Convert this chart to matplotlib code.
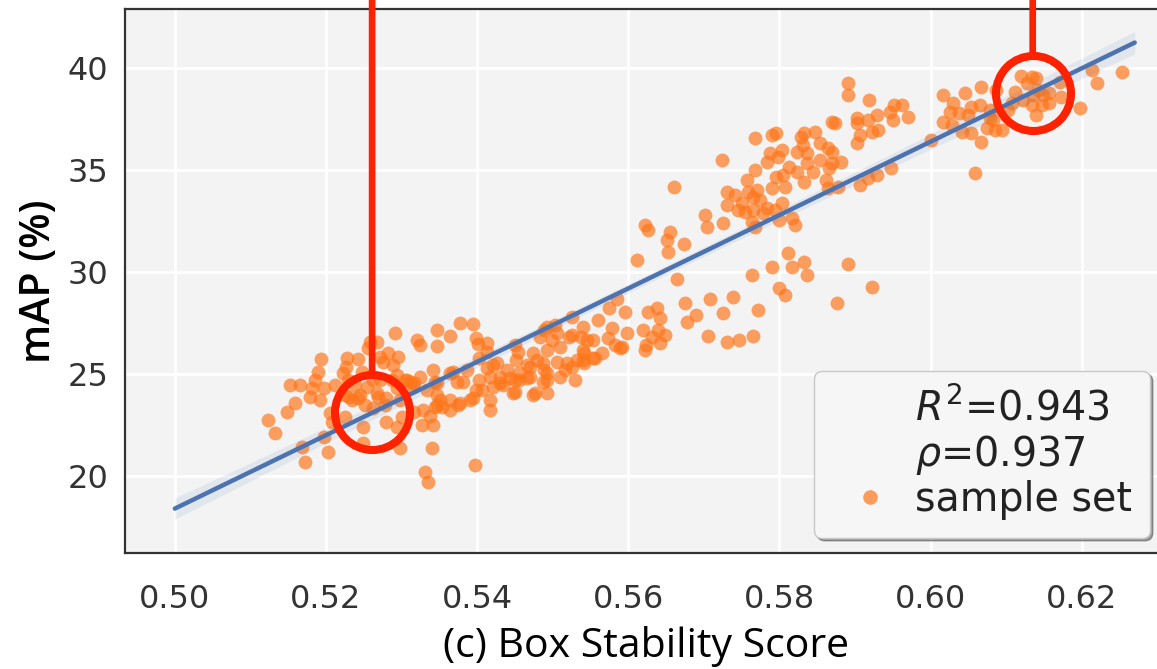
import numpy as np
import matplotlib
matplotlib.use("Agg")
import matplotlib.pyplot as plt
from matplotlib.lines import Line2D
from matplotlib.patches import ConnectionPatch
from matplotlib.transforms import offset_copy

# ---------------- data ----------------
pts = [
    # left cluster
    (0.5194,25.74),(0.5123,22.75),(0.5132,22.11),(0.5148,23.14),(0.5159,23.58),(0.5165,24.46),
    (0.5181,24.31),(0.5179,23.87),(0.5185,24.71),(0.5198,24.31),(0.5168,21.42),(0.5172,20.69),
    (0.5202,21.18),(0.5198,21.91),(0.5205,23.09),(0.5208,22.65),(0.5225,22.89),(0.5222,25.05),
    (0.5228,25.78),(0.5242,25.74),(0.5226,25.34),(0.5231,23.87),(0.5242,23.82),(0.5258,26.57),
    (0.5267,26.55),(0.5255,26.27),(0.5262,23.33),(0.5249,22.40),(0.5249,21.62),(0.5269,23.87),
    (0.5280,23.85),(0.5279,22.65),(0.5294,22.40),(0.5298,21.37),(0.5291,27.01),(0.5282,26.03),
    (0.5271,25.83),(0.5295,25.83),(0.5288,25.44),(0.5275,25.59),(0.5271,24.71),(0.5287,24.71),
    (0.5298,23.73),(0.5300,22.89),(0.5294,24.95),(0.5294,24.31),(0.5320,26.67),(0.5324,26.42),
    (0.5347,27.16),(0.5347,26.37),(0.5364,26.86),(0.5377,27.50),(0.5394,27.45),(0.5399,26.76),
    (0.5401,26.47),(0.5307,24.71),(0.5315,24.36),(0.5317,23.14),(0.5327,22.50),(0.5341,22.50),
    (0.5337,22.94),(0.5340,21.37),(0.5331,20.20),(0.5335,19.71),(0.5397,20.54),(0.5324,24.85),
    (0.5333,24.22),(0.5341,25.20),(0.5347,24.56),(0.5351,23.73),(0.5354,23.38),(0.5364,23.24),
    (0.5368,25.10),(0.5373,24.61),(0.5377,23.58),(0.5390,23.73),(0.5394,23.82),(0.5403,24.71),
    (0.5413,25.29),(0.5417,23.73),(0.5417,23.24),(0.5413,26.08),(0.5403,25.78),(0.5426,25.54),
    (0.5430,24.56),(0.5439,25.20),(0.5447,24.07),(0.5452,25.69),(0.5456,24.71),(0.5470,24.85),
    (0.5474,23.97),(0.5474,26.03),(0.5466,25.44),(0.5212,24.46),(0.5234,23.73),(0.5245,23.97),
    (0.5254,24.36),(0.5267,24.07),(0.5304,24.71),(0.5311,24.61),(0.5344,23.38),(0.5328,23.24),
    (0.5225,23.97),(0.5238,24.46),(0.5251,23.48),(0.5278,23.48),(0.5262,24.71),(0.5229,24.71),
    (0.5247,25.10),(0.5192,23.73),(0.5189,25.10),(0.5152,24.46),
    # 0.54 - 0.555 band
    (0.5450,26.42),(0.5454,26.08),(0.5479,25.69),(0.5492,27.30),(0.5505,27.01),(0.5509,26.32),
    (0.5526,26.91),(0.5538,26.81),(0.5553,26.67),(0.5542,26.03),(0.5532,25.69),(0.5553,25.78),
    (0.5519,25.54),(0.5505,25.59),(0.5492,25.05),(0.5487,25.54),(0.5456,25.05),(0.5430,24.85),
    (0.5421,25.44),(0.5417,24.85),(0.5407,24.22),(0.5421,24.36),(0.5434,24.46),(0.5450,24.12),
    (0.5450,24.71),(0.5466,24.80),(0.5476,24.07),(0.5492,24.07),(0.5487,24.61),(0.5509,24.85),
    (0.5526,25.34),(0.5529,24.71),(0.5516,25.20),(0.5542,25.54),(0.5386,25.20),(0.5381,24.61),
    (0.5364,25.05),(0.5344,24.61),(0.5317,24.56),(0.5347,23.97),(0.5347,23.48),(0.5364,23.73),
    (0.5374,23.48),(0.5399,24.22),(0.5443,24.80),
    # 0.55 - 0.58 lower band
    (0.5665,29.66),(0.5675,28.48),(0.5677,27.55),(0.5690,27.89),(0.5708,28.68),(0.5705,26.86),
    (0.5725,27.99),(0.5738,28.77),(0.5731,26.57),(0.5747,26.67),(0.5765,26.86),(0.5771,28.14),
    (0.5763,29.85),(0.5585,28.68),(0.5575,28.24),(0.5595,28.04),(0.5560,27.65),(0.5578,27.25),
    (0.5573,26.76),(0.5598,27.01),(0.5619,27.16),(0.5626,28.04),(0.5638,28.24),(0.5642,27.75),
    (0.5639,27.16),(0.5648,26.91),(0.5642,26.52),(0.5624,26.42),(0.5622,26.18),(0.5589,26.27),
    (0.5582,26.42),(0.5565,26.03),(0.5556,25.78),(0.5526,27.79),(0.5540,27.30),(0.5522,26.81),
    (0.5545,26.67),(0.5540,26.18),(0.5540,25.69),(0.5499,26.67),(0.5489,27.16),(0.5503,27.40),
    (0.5483,26.81),(0.5493,26.18),(0.5470,25.34),(0.5489,25.20),(0.5492,24.71),(0.5413,26.52),
    (0.5591,26.32),(0.5631,26.81),
    # 0.56 - 0.57 upper group
    (0.5660,34.17),(0.5622,32.30),(0.5626,32.06),(0.5655,31.96),(0.5651,31.57),(0.5653,30.98),
    (0.5673,31.37),(0.5611,30.59),(0.5701,32.79),(0.5704,32.21),
    # 0.57 - 0.595 cluster
    (0.5724,35.49),(0.5725,32.40),(0.5731,33.92),(0.5730,33.28),(0.5741,33.77),(0.5745,33.04),
    (0.5757,34.51),(0.5758,33.92),(0.5765,33.68),(0.5770,34.02),(0.5774,33.53),(0.5751,33.38),
    (0.5754,32.94),(0.5765,33.04),(0.5763,32.45),(0.5767,32.21),(0.5778,32.89),(0.5783,33.14),
    (0.5790,34.12),(0.5794,33.04),(0.5803,33.38),(0.5800,32.55),(0.5817,32.65),(0.5820,32.30),
    (0.5767,35.00),(0.5783,35.39),(0.5767,36.57),(0.5790,36.72),(0.5796,36.81),(0.5787,35.83),
    (0.5803,35.98),(0.5798,35.64),(0.5796,34.66),(0.5804,34.75),(0.5807,34.17),(0.5813,35.15),
    (0.5823,35.88),(0.5829,36.62),(0.5831,36.23),(0.5837,35.83),(0.5823,34.90),(0.5833,34.41),
    (0.5844,34.90),(0.5837,35.34),(0.5847,36.86),(0.5853,36.32),(0.5853,35.49),(0.5864,36.08),
    (0.5869,35.88),(0.5870,35.34),(0.5882,35.39),(0.5866,35.10),(0.5862,34.51),(0.5864,34.12),
    (0.5877,34.17),(0.5869,37.35),(0.5873,37.30),(0.5902,37.55),(0.5902,37.30),(0.5917,37.45),
    (0.5929,37.70),(0.5946,37.84),(0.5906,36.72),(0.5923,36.86),(0.5930,36.96),(0.5903,36.32),
    (0.5906,34.26),(0.5917,34.61),(0.5929,34.75),(0.5948,35.10),(0.5811,30.93),(0.5790,30.25),
    (0.5816,30.25),(0.5833,30.49),(0.5836,29.85),(0.5890,30.39),(0.5922,29.26),(0.5876,28.48),
    (0.5800,29.22),(0.5807,28.87),(0.5890,39.26),(0.5890,38.68),(0.5919,38.43),(0.5833,36.81),
    # 0.60 - 0.63 cluster
    (0.6016,38.68),(0.6029,38.28),(0.6045,38.77),(0.6067,39.07),(0.6054,38.09),(0.6065,38.19),
    (0.6025,37.84),(0.6038,37.79),(0.6049,37.70),(0.6016,37.35),(0.6028,37.21),(0.6042,36.86),
    (0.6054,36.81),(0.6067,36.37),(0.6078,37.55),(0.6074,37.06),(0.6082,37.45),(0.6085,36.96),
    (0.6078,37.94),(0.6094,36.96),(0.6087,38.92),(0.6001,36.47),(0.6058,34.85),(0.5952,38.19),
    (0.5962,38.19),(0.5950,37.45),(0.5970,37.60),(0.6120,39.61),(0.6134,39.56),(0.6140,39.51),
    (0.6128,39.26),(0.6111,38.82),(0.6122,38.43),(0.6135,38.68),(0.6148,38.68),(0.6157,38.77),
    (0.6171,39.31),(0.6173,38.58),(0.6108,38.28),(0.6102,37.94),(0.6134,38.19),(0.6147,38.19),
    (0.6140,37.70),(0.6197,38.04),(0.6213,39.90),(0.6220,39.26),(0.6253,39.80),(0.6142,38.92),
    (0.6157,38.28),
]
box_stability = [p[0] for p in pts]
map_values = [p[1] for p in pts]

highlight_x = [0.5261, 0.6135]
highlight_y = [23.14, 38.77]

fit_range = [0.50, 0.627]
x_ticks = [0.50, 0.52, 0.54, 0.56, 0.58, 0.60, 0.62]
y_ticks = [20, 25, 30, 35, 40]
legend_labels = [r'$R^2$=0.943', r'$\rho$=0.937', 'sample set']

# ---------------- figure ----------------
fig = plt.figure(figsize=(11.57, 6.69), dpi=100)
ax = fig.add_axes([0.108, 0.1734, 0.9015, 0.8131])
ax.set_facecolor('#f3f3f3')
ax.set_xlim(0.4934, 0.6314)
ax.set_ylim(16.23, 42.89)
ax.grid(True, color='white', linewidth=2)
ax.set_axisbelow(True)

for side in ['left', 'bottom', 'top', 'right']:
    ax.spines[side].set_color('#333333')
    ax.spines[side].set_linewidth(1.6)

orange = '#ff7518'
ax.scatter(box_stability, map_values, s=100, color=orange, alpha=0.68,
           linewidths=0, zorder=3)

# regression line from the data
xa = np.array(box_stability)
ya = np.array(map_values)
slope, intercept = np.polyfit(xa, ya, 1)
xs = np.linspace(fit_range[0], fit_range[1], 100)
ys = slope * xs + intercept
n = len(xa)
resid = ya - (slope * xa + intercept)
s_err = np.sqrt(np.sum(resid ** 2) / (n - 2))
se = s_err * np.sqrt(1.0 / n + (xs - xa.mean()) ** 2 / np.sum((xa - xa.mean()) ** 2))
ax.fill_between(xs, ys - 1.97 * se, ys + 1.97 * se, color='#4c72b0', alpha=0.10,
                linewidth=0, zorder=4)
ax.plot(xs, ys, color='#4c72b0', linewidth=3.2, zorder=5, solid_capstyle='round')

# highlight circles with vertical lines
red = '#ff2200'
circle_ms = 54
ax.plot(highlight_x, highlight_y, 'o', ms=circle_ms, mfc='none', mec=red, mew=5.8,
        zorder=6, clip_on=False)
start_tr = offset_copy(ax.transData, fig=fig, x=0, y=circle_ms / 2, units='points')
for hx, hy in zip(highlight_x, highlight_y):
    con = ConnectionPatch(xyA=(hx, hy), coordsA=start_tr,
                          xyB=(hx, 1.2), coordsB=ax.get_xaxis_transform(),
                          color=red, linewidth=4.8, zorder=6, capstyle='butt')
    fig.add_artist(con)

ax.set_xticks(x_ticks)
ax.set_xticklabels([f'{v:.2f}' for v in x_ticks])
ax.set_yticks(y_ticks)
ax.tick_params(axis='both', length=0, labelsize=23, labelcolor='#333333')
ax.tick_params(axis='x', pad=22)
ax.tick_params(axis='y', pad=12)
for lab in ax.get_xticklabels() + ax.get_yticklabels():
    lab.set_fontfamily('DejaVu Sans')

ax.set_xlabel('(c) Box Stability Score', fontsize=29.5, family='Open Sans', color='black',
              labelpad=8)
ax.set_ylabel('mAP (%)', fontsize=29.5, family='Open Sans', fontweight='semibold',
              color='black', labelpad=5)

handles = [Line2D([], [], linestyle='none'),
           Line2D([], [], linestyle='none'),
           Line2D([], [], linestyle='none', marker='o', ms=10.5, color=orange, alpha=0.7,
                  markeredgewidth=0)]
leg = ax.legend(handles, legend_labels, loc='lower right',
                bbox_to_anchor=(1150 / 1157, 1 - 538 / 669), bbox_transform=fig.transFigure,
                borderaxespad=0, fontsize=28.5, frameon=True, fancybox=True, shadow=True,
                framealpha=1, facecolor='#f6f6f6', edgecolor='#c8c8c8',
                handlelength=1.9, handletextpad=0.2, labelspacing=0.08, borderpad=0.45)
for t in leg.get_texts():
    t.set_color('#222222')
leg.set_zorder(10)

fig.savefig('out.png', dpi=100)
